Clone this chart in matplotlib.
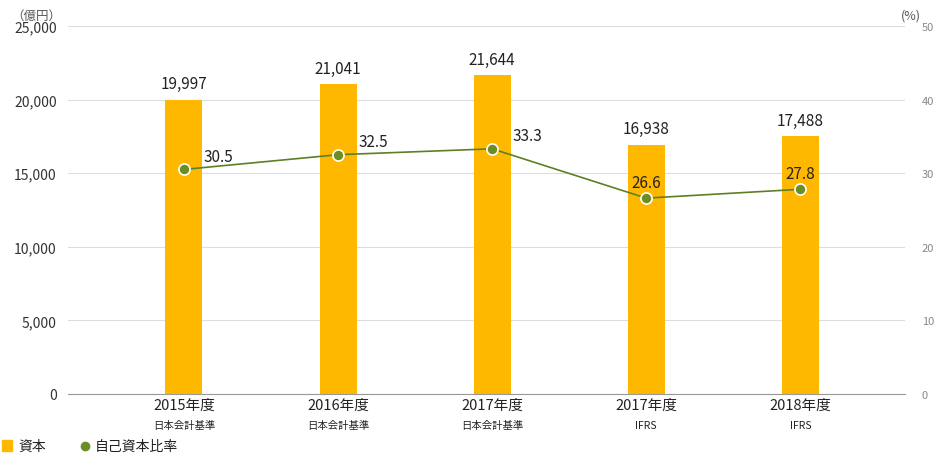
import matplotlib
matplotlib.use("Agg")
import matplotlib.pyplot as plt

plt.rcParams["font.family"] = "Noto Sans CJK JP"

# Data
YEARS = ["2015年度", "2016年度", "2017年度", "2017年度", "2018年度"]
STANDARDS = ["日本会計基準", "日本会計基準", "日本会計基準", "IFRS", "IFRS"]
CAPITAL = [19997, 21041, 21644, 16938, 17488]
RATIO = [30.5, 32.5, 33.3, 26.6, 27.8]
RATIO_LABEL_POS = ["right", "right", "right", "top", "top"]

BAR_COLOR = "#FFB800"
LINE_COLOR = "#5E7F23"
MARKER_COLOR = "#6B8E23"


def main():
    fig = plt.figure(figsize=(9.36, 4.56), dpi=100)
    ax = fig.add_axes([0.0726, 0.134, 0.8944, 0.807])
    x = list(range(len(CAPITAL)))

    ax.bar(x, CAPITAL, width=0.24, color=BAR_COLOR, zorder=2)
    for xi, v in zip(x, CAPITAL):
        ax.text(xi, v + 500, f"{v:,}", ha="center", va="bottom", fontsize=11, color="#222222")

    ax.set_xlim(-0.753, 4.68)
    ax.set_ylim(0, 25000)
    ax.set_yticks(range(0, 25001, 5000))
    ax.set_yticklabels([f"{v:,}" for v in range(0, 25001, 5000)], fontsize=10, color="#333333")
    ax.grid(axis="y", color="#dddddd", linewidth=0.8, zorder=0)
    ax.set_xticks(x)
    ax.set_xticklabels([""] * len(x))
    for xi, yr, st in zip(x, YEARS, STANDARDS):
        ax.text(xi, -250, yr, ha="center", va="top", fontsize=10.5, color="#222222")
        ax.text(xi, -1750, st, ha="center", va="top", fontsize=7.5, color="#222222")
    ax.tick_params(length=0, pad=8)
    for s in ["top", "right", "left"]:
        ax.spines[s].set_visible(False)
    ax.spines["bottom"].set_color("#999999")

    ax2 = ax.twinx()
    ax2.set_ylim(0, 50)
    ax2.set_yticks(range(0, 51, 10))
    ax2.tick_params(length=0, labelsize=8, labelcolor="#888888", pad=12)
    for s in ax2.spines.values():
        s.set_visible(False)
    ax2.plot(x, RATIO, color=LINE_COLOR, linewidth=1.2, marker="o", markersize=8,
             markerfacecolor=MARKER_COLOR, markeredgecolor="white", markeredgewidth=1.2, zorder=3)
    for xi, r, pos in zip(x, RATIO, RATIO_LABEL_POS):
        if pos == "right":
            ax2.text(xi + 0.13, r + 0.6, f"{r}", ha="left", va="bottom", fontsize=11, color="#222222")
        else:
            ax2.text(xi, r + 1.0, f"{r}", ha="center", va="bottom", fontsize=11, color="#222222")

    fig.text(0.012, 0.965, "（億円）", fontsize=9, color="#555555", va="center")
    fig.text(0.962, 0.965, "(%)", fontsize=9, color="#555555", va="center")

    # Legend
    fig.patches.append(plt.Rectangle((0.002, 0.008), 0.011, 0.024,
                                     transform=fig.transFigure, color=BAR_COLOR))
    fig.text(0.02, 0.02, "資本", fontsize=10, va="center", color="#222222")
    fig.lines.append(plt.Line2D([0.0905], [0.02], marker="o", markersize=8,
                                markerfacecolor=MARKER_COLOR, markeredgecolor="white",
                                transform=fig.transFigure))
    fig.text(0.101, 0.02, "自己資本比率", fontsize=10, va="center", color="#222222")

    fig.savefig("out.png", dpi=100)


if __name__ == "__main__":
    main()
